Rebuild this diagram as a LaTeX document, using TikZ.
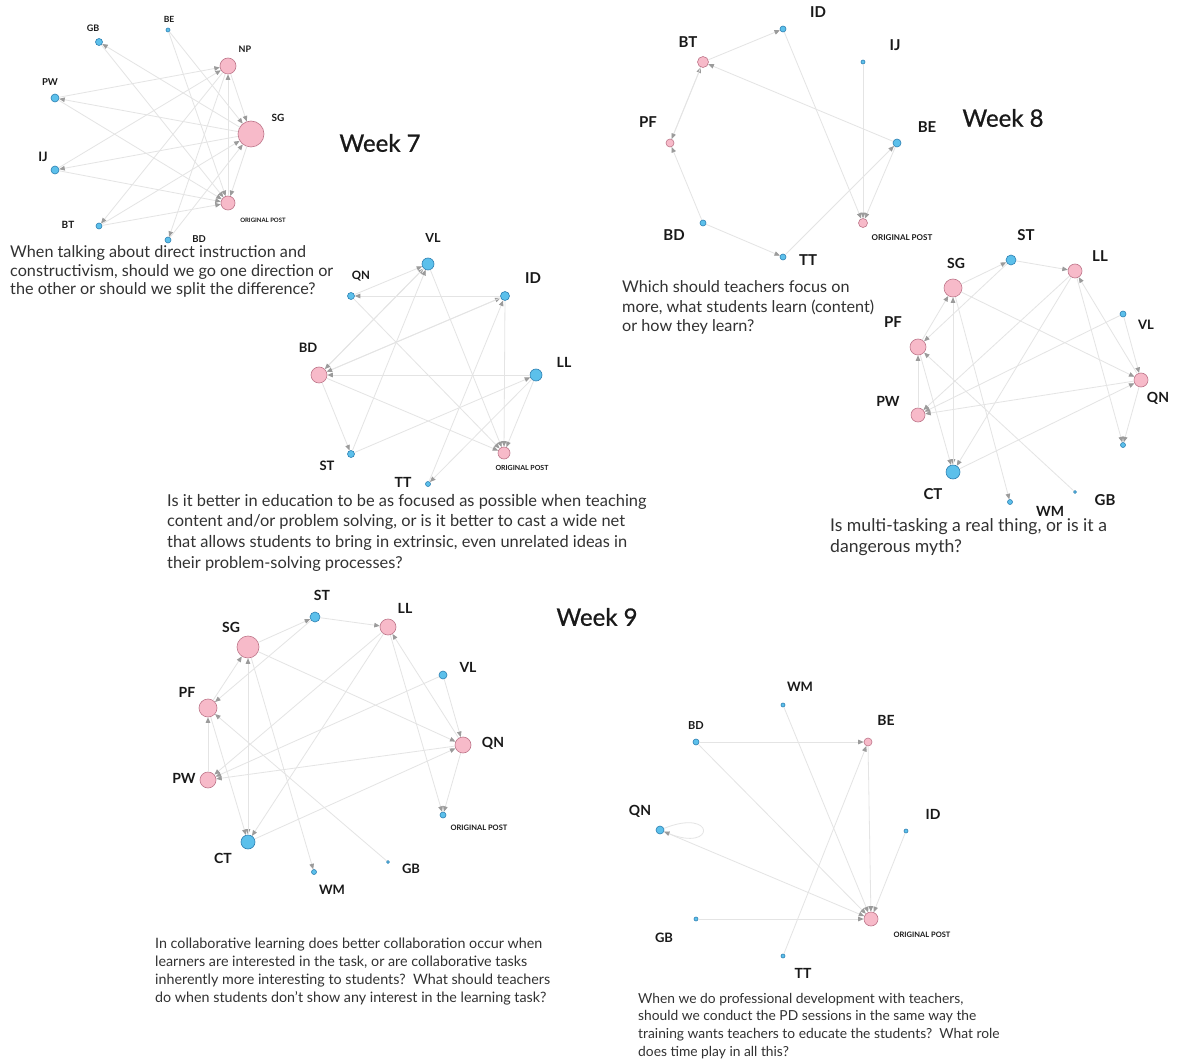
\documentclass[tikz,border=0pt]{standalone}
\usepackage{fontspec}
\setmainfont{Lato}
\usetikzlibrary{arrows.meta}
\definecolor{pinkfill}{RGB}{247,186,201}
\definecolor{pinkline}{RGB}{190,118,138}
\definecolor{bluefill}{RGB}{92,192,235}
\definecolor{blueline}{RGB}{45,128,178}
\definecolor{edgecol}{RGB}{228,228,228}
\definecolor{tipcol}{RGB}{155,155,155}
\definecolor{txtcol}{RGB}{50,50,50}
\definecolor{labcol}{RGB}{25,25,25}
\newcommand\lfont[1]{\fontsize{#1}{#1}\selectfont\bfseries}
\newcommand\qfont[2]{\fontsize{#1}{#2}\selectfont}
\begin{document}
\begin{tikzpicture}[x=1pt,y=-1pt,
  pn/.style={circle,draw=pinkline,fill=pinkfill,line width=0.6pt,inner sep=0pt,minimum size=#1},
  bn/.style={circle,draw=blueline,fill=bluefill,line width=0.6pt,inner sep=0pt,minimum size=#1},
  lab/.style={font=\lfont{#1},text=labcol,inner sep=0pt},
  lab/.default=13,
  edge/.style={draw=edgecol,line width=0.8pt,-{Triangle[length=5.5pt,width=4.5pt,color=tipcol]}},
  quest/.style={text=txtcol,align=left,inner sep=0pt,anchor=north west},
  title/.style={font=\fontsize{24}{24}\selectfont\addfontfeatures{FakeBold=0.8},text=labcol,inner sep=0pt}]
\fill[white] (0,0) rectangle (1181,1059);
\useasboundingbox (0,0) rectangle (1181,1059);

% ---------------- Week 7 (a) ----------------
\node[bn=7]  (aGB) at (99,42) {};
\node[bn=4]  (aBE) at (168,30) {};
\node[pn=16] (aNP) at (228,66) {};
\node[bn=8]  (aPW) at (55,98) {};
\node[pn=26] (aSG) at (251,134) {};
\node[bn=8]  (aIJ) at (55,170) {};
\node[pn=14] (aOP) at (228,203) {};
\node[bn=6]  (aBT) at (99,226) {};
\node[bn=6]  (aBD) at (168,240) {};
\foreach \s/\t in {aSG/aGB,aSG/aPW,aSG/aIJ,aPW/aNP,aIJ/aNP,aIJ/aOP,aPW/aOP,aGB/aOP,aBE/aSG,aBE/aOP,aBT/aSG,aBT/aOP,aNP/aBD,aBD/aSG,aNP/aSG,aSG/aOP,aOP/aNP,aNP/aBT}
  \draw[edge] (\s) -- (\t);
\node[lab=9] (aGBl) at (93,28) {GB};
\node[lab=8.5] (aBEl) at (169,19) {BE};
\node[lab=9] (aNPl) at (245,49) {NP};
\node[lab=9.5] (aPWl) at (50,82) {PW};
\node[lab=10] (aSGl) at (278,118) {SG};
\node[lab=13] (aIJl) at (43,157) {IJ};
\node[lab=6] (aOPl) at (263,220) {ORIGINAL POST};
\node[lab=10] (aBTl) at (68,225) {BT};
\node[lab=9.5] (aBDl) at (199,239) {BD};
\node[title] (w7) at (380,143) {Week 7};
\node[quest,font=\qfont{16.2}{18.6}] (q1) at (10,245.5) {When talking about direct instruction and\\constructivism, should we go one direction or\\the other or should we split the difference?};

% ---------------- Week 7 (b) ----------------
\node[bn=12] (bVL) at (428,264) {};
\node[bn=7]  (bQN) at (351,296) {};
\node[bn=9]  (bID) at (505,296) {};
\node[pn=16] (bBD) at (319,375) {};
\node[bn=12] (bLL) at (536,375) {};
\node[bn=7]  (bST) at (351,454) {};
\node[pn=12] (bOP) at (504,453) {};
\node[bn=5]  (bTT) at (428,484) {};
\foreach \s/\t in {bID/bQN,bBD/bVL,bVL/bBD,bQN/bVL,bBD/bID,bLL/bBD,bST/bLL,bVL/bOP,bQN/bOP,bID/bOP,bLL/bOP,bBD/bST,bST/bVL,bLL/bTT,bTT/bID,bID/bBD,bBD/bOP}
  \draw[edge] (\s) -- (\t);
\node[lab=12.5] (bVLl) at (433,238) {VL};
\node[lab=11.5] (bQNl) at (361,276) {QN};
\node[lab=15] (bIDl) at (533,278) {ID};
\node[lab=13] (bBDl) at (308,348) {BD};
\node[lab=14] (bLLl) at (564,362) {LL};
\node[lab=13] (bSTl) at (327,466) {ST};
\node[lab=7] (bOPl) at (522,468) {ORIGINAL POST};
\node[lab=14] (bTTl) at (403,482) {TT};
\node[quest,font=\qfont{16.4}{20.6}] (q2) at (167,494) {Is it better in education to be as focused as possible when teaching\\content and/or problem solving, or is it better to cast a wide net\\that allows students to bring in extrinsic, even unrelated ideas in\\their problem-solving processes?};

% ---------------- Week 8 (c) ----------------
\node[bn=6]  (cID) at (783,29) {};
\node[bn=4]  (cIJ) at (863,62) {};
\node[pn=11] (cBT) at (703,62) {};
\node[pn=8]  (cPF) at (670,143) {};
\node[bn=8]  (cBE) at (897,143) {};
\node[bn=6]  (cBD) at (703,223) {};
\node[pn=9]  (cOP) at (863,223) {};
\node[bn=6]  (cTT) at (783,257) {};
\foreach \s/\t in {cBT/cID,cBE/cBT,cPF/cBT,cBT/cPF,cBD/cPF,cBD/cTT,cTT/cBE,cID/cOP,cIJ/cOP,cBE/cOP}
  \draw[edge] (\s) -- (\t);
\node[lab=15] (cIDl) at (818,12) {ID};
\node[lab=15] (cIJl) at (895,45) {IJ};
\node[lab=15] (cBTl) at (688,42) {BT};
\node[lab=15] (cPFl) at (648,122) {PF};
\node[lab=15] (cBEl) at (927,127) {BE};
\node[lab=15] (cBDl) at (674,235) {BD};
\node[lab=8] (cOPl) at (902,238) {ORIGINAL POST};
\node[lab=15] (cTTl) at (808,260) {TT};
\node[title] (w8) at (1003,118) {Week 8};
\node[quest,font=\qfont{16.2}{19.5}] (q3) at (622,280.5) {Which should teachers focus on\\more, what students learn (content)\\or how they learn?};

% ---------------- Week 8 (d) ----------------
\node[bn=10] (dST) at (1011,260) {};
\node[pn=18] (dSG) at (953,288) {};
\node[pn=14] (dLL) at (1075,271) {};
\node[bn=6]  (dVL) at (1123,314) {};
\node[pn=16] (dPF) at (918,347) {};
\node[pn=14] (dQN) at (1141,380) {};
\node[pn=14] (dPW) at (918,415) {};
\node[bn=5]  (dOP) at (1123,445) {};
\node[bn=14] (dCT) at (953,472) {};
\node[bn=5]  (dWM) at (1010,502) {};
\node[bn=3]  (dGB) at (1075,492) {};
\foreach \s/\t in {dSG/dST,dST/dLL,dST/dPF,dPF/dSG,dSG/dQN,dSG/dCT,dSG/dWM,dQN/dLL,dVL/dQN,dVL/dPW,dLL/dPW,dLL/dCT,dQN/dPW,dCT/dQN,dGB/dPF,dPW/dPF,dPF/dCT,dLL/dOP,dQN/dOP,dCT/dSG}
  \draw[edge] (\s) -- (\t);
\node[lab=15] (dSTl) at (1026,235) {ST};
\node[lab=14] (dSGl) at (956,263) {SG};
\node[lab=15] (dLLl) at (1100,256) {LL};
\node[lab=13] (dVLl) at (1146,325) {VL};
\node[lab=15] (dPFl) at (893,322) {PF};
\node[lab=14] (dQNl) at (1158,398) {QN};
\node[lab=14] (dPWl) at (888,401) {PW};
\node[lab=15] (dCTl) at (933,494) {CT};
\node[lab=14] (dWMl) at (1050,511) {WM};
\node[lab=15] (dGBl) at (1105,500) {GB};
\node[quest,font=\qfont{17.6}{20.5}] (q4) at (830,518.5) {Is multi-tasking a real thing, or is it a\\dangerous myth?};

% ---------------- Week 9 (e) ----------------
\node[bn=10] (eST) at (315,617) {};
\node[pn=16] (eLL) at (388,627) {};
\node[pn=22] (eSG) at (248,647) {};
\node[bn=8]  (eVL) at (443,675) {};
\node[pn=18] (ePF) at (208,708) {};
\node[pn=16] (eQN) at (463,745) {};
\node[pn=16] (ePW) at (208,780) {};
\node[bn=6]  (eOP) at (443,815) {};
\node[bn=14] (eCT) at (248,842) {};
\node[bn=5]  (eWM) at (314,872) {};
\node[bn=3]  (eGB) at (388,862) {};
\foreach \s/\t in {eSG/eST,eST/eLL,eST/ePF,ePF/eSG,eSG/eQN,eSG/eCT,eSG/eWM,eQN/eLL,eVL/eQN,eVL/ePW,eLL/ePW,eLL/eCT,eQN/ePW,eCT/eQN,eGB/ePF,ePW/ePF,ePF/eCT,eLL/eOP,eQN/eOP,eCT/eSG}
  \draw[edge] (\s) -- (\t);
\node[lab=14] (eSTl) at (322,595) {ST};
\node[lab=14] (eLLl) at (405,608) {LL};
\node[lab=14] (eSGl) at (231,627) {SG};
\node[lab=14] (eVLl) at (468,667) {VL};
\node[lab=14] (ePFl) at (187,692) {PF};
\node[lab=14] (eQNl) at (493,743) {QN};
\node[lab=14] (ePWl) at (184,778) {PW};
\node[lab=7.5] (eOPl) at (479,828) {ORIGINAL POST};
\node[lab=14] (eCTl) at (223,858) {CT};
\node[lab=13] (eWMl) at (332,890) {WM};
\node[lab=13] (eGBl) at (411,869) {GB};
\node[title] (w9) at (597,617) {Week 9};
\node[quest,font=\qfont{14.3}{18}] (q5) at (155,938) {In collaborative learning does better collaboration occur when\\learners are interested in the task, or are collaborative tasks\\inherently more interesting to students?\ \ What should teachers\\do when students don't show any interest in the learning task?};

% ---------------- Week 9 (f) ----------------
\node[bn=4]  (fWM) at (783,705) {};
\node[bn=6]  (fBD) at (696,742) {};
\node[pn=8]  (fBE) at (868,742) {};
\node[bn=8]  (fQN) at (660,830) {};
\node[bn=4]  (fID) at (906,831) {};
\node[pn=14] (fOP) at (871,919) {};
\node[bn=4]  (fGB) at (696,919) {};
\node[bn=4]  (fTT) at (783,956) {};
\foreach \s/\t in {fBD/fBE,fTT/fBE,fWM/fOP,fBD/fOP,fQN/fOP,fGB/fOP,fBE/fOP,fID/fOP}
  \draw[edge] (\s) -- (\t);
\draw[edge] (fQN) to[out=22,in=-22,min distance=56pt] (fQN);
\node[lab=13] (fWMl) at (800,687) {WM};
\node[lab=11] (fBDl) at (696,726) {BD};
\node[lab=14] (fBEl) at (886,720) {BE};
\node[lab=14] (fQNl) at (640,811) {QN};
\node[lab=14] (fIDl) at (933,814) {ID};
\node[lab=7.5] (fOPl) at (922,935) {ORIGINAL POST};
\node[lab=13] (fGBl) at (664,938) {GB};
\node[lab=14] (fTTl) at (803,973) {TT};
\node[quest,font=\qfont{13.8}{17.6}] (q6) at (638,993) {When we do professional development with teachers,\\should we conduct the PD sessions in the same way the\\training wants teachers to educate the students?\ \ What role\\does time play in all this?};
\end{tikzpicture}
\end{document}
